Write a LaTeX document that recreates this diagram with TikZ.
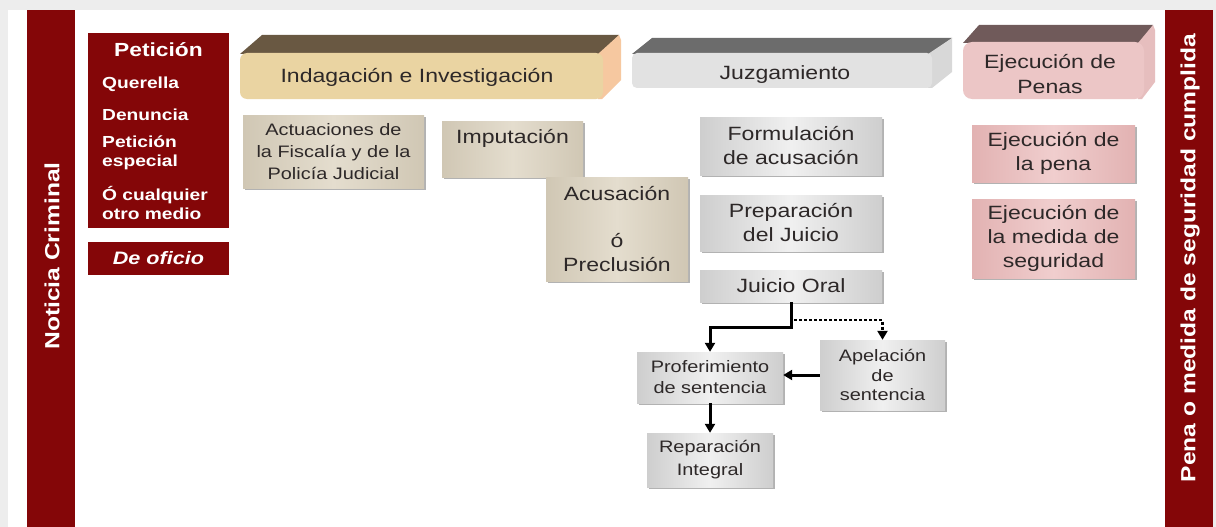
\documentclass[tikz,border=0pt]{standalone}
\usepackage{fontspec}
\newfontfamily\wf{Liberation Sans}[FakeStretch=1.2]
\usetikzlibrary{arrows.meta,shadows,calc}
\definecolor{dred}{RGB}{132,6,8}
\definecolor{tanD}{RGB}{208,199,180}
\definecolor{tanL}{RGB}{228,221,206}
\definecolor{grD}{RGB}{206,206,206}
\definecolor{grL}{RGB}{240,240,240}
\definecolor{pkD}{RGB}{226,178,178}
\definecolor{pkL}{RGB}{240,206,206}
\definecolor{bAf}{RGB}{234,212,162}
\definecolor{bAt}{RGB}{105,88,66}
\definecolor{bAs}{RGB}{246,200,160}
\definecolor{bBf}{RGB}{226,226,226}
\definecolor{bBt}{RGB}{108,108,108}
\definecolor{bBs}{RGB}{216,216,216}
\definecolor{bCf}{RGB}{236,198,198}
\definecolor{bCt}{RGB}{112,90,90}
\definecolor{bCs}{RGB}{230,190,190}
\definecolor{txt}{RGB}{45,40,40}
\tikzset{
  base/.style={draw=none, inner sep=0pt, align=center, text=txt,
    drop shadow={shadow xshift=1.5pt,shadow yshift=-1.5pt,opacity=0.3,fill=black}},
  tanbox/.style={base, left color=tanD, right color=tanD, middle color=tanL},
  graybox/.style={base, left color=grD, right color=grD, middle color=grL},
  pinkbox/.style={base, left color=pkD, right color=pkD, middle color=pkL},
  redbox/.style={fill=dred, draw=none, inner sep=0pt},
  big/.style={font=\wf\fontsize{19.2}{24}\selectfont},
  small/.style={font=\wf\fontsize{16.6}{21}\selectfont},
  itm/.style={font=\wf\bfseries\fontsize{16}{19.5}\selectfont, text=white, anchor=west, inner sep=0pt, align=left},
  bartext/.style={font=\wf\bfseries\fontsize{20.5}{24}\selectfont, text=white, rotate=90, inner sep=0pt},
  bantext/.style={inner sep=0pt, align=center, text=txt, font=\wf\fontsize{19.2}{25}\selectfont},
  conn/.style={line width=3pt, -{Triangle[length=9pt,width=10pt]}},
  dotconn/.style={line width=2.5pt, dash pattern=on 3pt off 2pt, -{Triangle[length=9pt,width=10pt]}},
}
\begin{document}
\begin{tikzpicture}[x=1pt,y=-1pt]
\useasboundingbox (0,0) rectangle (1216,527);
% page background
\fill[black!7] (0,0) rectangle (1216,527);
\fill[white] (8,10) rectangle (1213,527);

% side bars
\node[redbox, minimum width=48pt, minimum height=517pt] (lbar) at (51,268.5) {};
\node[bartext] (lbart) at (52,256) {Noticia Criminal};
\node[redbox, minimum width=48pt, minimum height=517pt] (rbar) at (1189,268.5) {};
\node[bartext] (rbart) at (1190,258) {Pena o medida de seguridad cumplida};

% Peticion box
\node[redbox, minimum width=141pt, minimum height=195pt] (pet) at (158.5,130.5) {};
\node[font=\wf\bfseries\fontsize{19}{22}\selectfont, text=white, inner sep=0pt] (peth) at (158.5,50) {Petición};
\node[itm] (i1) at (102,84) {Querella};
\node[itm] (i2) at (102,115) {Denuncia};
\node[itm] (i3) at (102,153) {Petición\\especial};
\node[itm] (i4) at (102,203) {Ó cualquier\\otro medio};
\node[redbox, minimum width=141pt, minimum height=33pt, text=white,
      font=\wf\bfseries\itshape\fontsize{18}{20}\selectfont] (ofi) at (158.5,258.5) {De oficio};

% Banner 1: Indagacion e Investigacion
\fill[bAt] (240,54) -- (262,35) -- (619,35) -- (600,54) -- cycle;
\fill[bAs] (598,54) -- (619,35) -- (621,40) -- (621,80) -- (602,99) -- (598,99) -- cycle;
\fill[bAf, rounded corners=7pt] (240,53) rectangle (603,99);
\node[bantext] (ban1) at (417,77) {Indagación e Investigación};

% Banner 2: Juzgamiento
\fill[bBt] (632,54) -- (652,38) -- (952,38) -- (930,54) -- cycle;
\fill[bBs] (928,54) -- (952,38) -- (952,72) -- (932,88) -- (928,88) -- cycle;
\fill[bBf, rounded corners=5pt] (632,53) rectangle (932,88);
\node[bantext] (ban2) at (785,75) {Juzgamiento};

% Banner 3: Ejecucion de Penas
\fill[bCt] (963,43) -- (979,25) -- (1153,25) -- (1140,43) -- cycle;
\fill[bCs] (1138,43) -- (1153,25) -- (1155,30) -- (1155,82) -- (1142,99) -- (1138,99) -- cycle;
\fill[bCf, rounded corners=9pt] (963,42) rectangle (1144,99);
\node[bantext] (ban3) at (1050,74) {Ejecución de\\Penas};

% Investigation boxes
\node[tanbox, small, minimum width=181pt, minimum height=73pt,
      font=\wf\fontsize{16.6}{22}\selectfont] (act) at (333.5,151.5)
      {Actuaciones de\\la Fiscalía y de la\\Policía Judicial};
\node[tanbox, minimum width=141pt, minimum height=56pt,
      label={[big, text=txt, anchor=north, inner sep=0pt, yshift=-8pt]north:Imputación}] (imp) at (512.5,149) {};
\node[tanbox, big, minimum width=142pt, minimum height=104pt] (acu) at (617,229)
      {Acusación\\[23pt]ó\\Preclusión};

% Juzgamiento boxes
\node[graybox, big, minimum width=182pt, minimum height=58pt] (form) at (791,146) {Formulación\\de acusación};
\node[graybox, big, minimum width=182pt, minimum height=56pt] (prep) at (791,223) {Preparación\\del Juicio};
\node[graybox, big, minimum width=182pt, minimum height=32pt] (jo) at (791,286) {Juicio Oral};
\node[graybox, small, minimum width=146pt, minimum height=51pt] (prof) at (710,377.5) {Proferimiento\\de sentencia};
\node[graybox, minimum width=125pt, minimum height=70pt,
      font=\wf\fontsize{16.6}{19.5}\selectfont] (ape) at (882.5,375) {Apelación\\de\\sentencia};
\node[graybox, minimum width=126pt, minimum height=54pt,
      font=\wf\fontsize{16.6}{23}\selectfont] (rep) at (710,460) {Reparación\\Integral};

% Ejecucion boxes
\node[pinkbox, big, minimum width=163pt, minimum height=57pt] (ejp) at (1053.5,153.5) {Ejecución de\\la pena};
\node[pinkbox, big, minimum width=163pt, minimum height=79pt] (ejm) at (1053.5,238.5) {Ejecución de\\la medida de\\seguridad};

% connectors
\coordinate (j1) at (791,327);
\coordinate (d0) at (794,320);
\draw[conn] (jo.south) -- (j1) -| (prof.north);
\draw[dotconn] (d0) -| (ape.north);
\draw[conn] (ape.west) -- (ape.west -| prof.east);
\draw[conn] (prof.south) -- (rep.north);
\end{tikzpicture}
\end{document}
